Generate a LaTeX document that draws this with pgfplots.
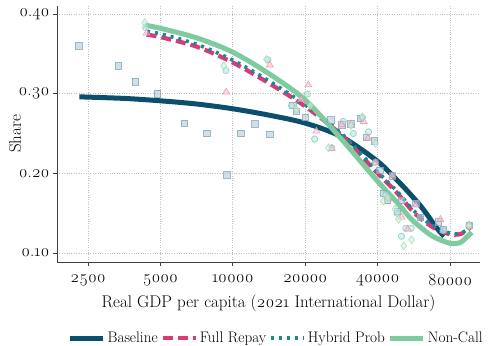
\documentclass[border=0pt]{standalone}
\usepackage{fontspec}
\setmainfont{Latin Modern Roman}[Numbers=OldStyle]
\usepackage{pgfplots}
\pgfplotsset{compat=1.18}
\definecolor{cnavy}{HTML}{0B4F6C}
\definecolor{cpink}{HTML}{DC3977}
\definecolor{cteal}{HTML}{178A94}
\definecolor{cgreen}{HTML}{7FCBA0}
\definecolor{sqfill}{HTML}{B4CAD6}
\definecolor{sqedge}{HTML}{86A8BC}
\definecolor{cifill}{HTML}{BCE6E0}
\definecolor{ciedge}{HTML}{78C6BC}
\definecolor{trfill}{HTML}{F6C4D6}
\definecolor{tredge}{HTML}{E68CAE}
\definecolor{dmfill}{HTML}{CDEED8}
\definecolor{dmedge}{HTML}{9AD9B4}
\begin{document}
\begin{tikzpicture}
\path[use as bounding box] (-57bp,-84bp) rectangle (431bp,262bp);
\begin{axis}[
  at={(0,0)}, anchor=south west,
  scale only axis, width=423bp, height=256bp,
  xmode=log, xmin=1857, xmax=106650, ymin=0.0887, ymax=0.410,
  xtick={2500,5000,10000,20000,40000,80000},
  xticklabels={2500,5000,10000,20000,40000,80000},
  ytick={0.1,0.2,0.3,0.4},
  yticklabels={0.10,0.20,0.30,0.40},
  axis x line=bottom, axis y line=left,
  axis line style={-, draw=black!75, line width=1bp},
  tick align=outside, major tick length=4bp,
  tick style={black!75, line width=0.8bp},
  minor tick num=0,
  grid=major, major grid style={dotted, black!25, line width=0.8bp},
  tick label style={font=\fontsize{17}{20}\selectfont},
  xticklabel style={yshift=-5bp},
  label style={font=\fontsize{17}{20}\selectfont},
  xlabel={Real GDP per capita (2021 International Dollar)},
  ylabel={Share},
  xlabel style={at={(axis description cs:0.5,-0.16)}, anchor=center},
  ylabel style={at={(axis description cs:-0.0993,0.5)}, anchor=center},
  legend columns=4,
  legend style={at={(axis description cs:0.518,-0.297)}, anchor=center, draw=none, fill=none,
    font=\fontsize{15.3}{18}\selectfont,
    /tikz/every even column/.append style={column sep=1bp}},
  legend image code/.code={\draw[#1] (0bp,0bp) -- (33bp,0bp);},
]
% curves
\addplot[cnavy, line width=5bp, smooth, tension=0.5] coordinates {
(2300,0.296) (3536,0.294) (5000,0.291) (7071,0.287) (10000,0.281) (14142,0.273)
(20000,0.263) (28284,0.246) (40000,0.215) (49600,0.1875) (55000,0.173) (60000,0.160)
(64000,0.149) (68200,0.137) (72000,0.128) (75600,0.121)};
\addlegendentry{Baseline}
\addplot[cpink, line width=4.2bp, dash pattern=on 10bp off 5bp, smooth, tension=0.5] coordinates {
(4380,0.374) (5000,0.371) (7071,0.359) (10000,0.339) (14142,0.313) (20000,0.284)
(28284,0.248) (40000,0.200) (48000,0.176) (55000,0.155) (60000,0.144) (65000,0.136)
(70000,0.130) (80000,0.1235) (89000,0.124) (97000,0.132)};
\addlegendentry{Full Repay}
\addplot[cteal, line width=3.6bp, dash pattern=on 3bp off 5bp, smooth, tension=0.5] coordinates {
(4400,0.378) (5000,0.375) (7071,0.362) (10000,0.342) (14142,0.316) (20000,0.286)
(28284,0.250) (40000,0.202) (48000,0.178) (55000,0.157) (60000,0.146) (65000,0.138)
(70000,0.132) (80000,0.125) (89000,0.125) (97000,0.132)};
\addlegendentry{Hybrid Prob}
\addplot[cgreen, line width=5bp, smooth, tension=0.5] coordinates {
(4312,0.386) (5000,0.382) (7071,0.370) (10000,0.352) (14142,0.325) (20000,0.292)
(28284,0.243) (40000,0.190) (48000,0.164) (55000,0.143) (60000,0.133) (68200,0.1205)
(80000,0.1122) (88000,0.113) (94000,0.120) (98500,0.126)};
\addlegendentry{Non-Call}
% scatter
\addplot[only marks, mark=square*, mark size=3.2bp, forget plot,
  mark options={fill=sqfill, draw=sqedge, fill opacity=0.6, draw opacity=0.8, line width=0.6bp}] coordinates {
(2284,0.360) (3343,0.335) (3935,0.315) (4853,0.300) (6286,0.263) (7790,0.250)
(9430,0.198) (10780,0.250) (12340,0.262) (14250,0.249) (17730,0.285) (18400,0.278)
(20000,0.270) (25570,0.267) (28400,0.261) (31000,0.262) (33800,0.269) (35800,0.245)
(38700,0.241) (40900,0.204) (46000,0.197) (42300,0.175) (50200,0.166) (48200,0.152)
(57700,0.162) (60200,0.145) (71600,0.139) (75000,0.130) (96000,0.135) (44000,0.166)};
\addplot[only marks, mark=*, mark size=3.2bp, forget plot,
  mark options={fill=cifill, draw=ciedge, fill opacity=0.6, draw opacity=0.8, line width=0.6bp}] coordinates {
(4340,0.383) (9365,0.329) (14000,0.3425) (17550,0.285) (20400,0.2995) (21900,0.243)
(28800,0.265) (31700,0.250) (34600,0.270) (36700,0.252) (39200,0.214) (43300,0.173)
(48200,0.150) (50300,0.121) (55100,0.131) (52400,0.131) (75000,0.128) (96000,0.135)
(25800,0.232)};
\addplot[only marks, mark=triangle*, mark size=4bp, forget plot,
  mark options={fill=trfill, draw=tredge, fill opacity=0.6, draw opacity=0.8, line width=0.6bp}] coordinates {
(4380,0.376) (9380,0.302) (14250,0.336) (20600,0.311) (19200,0.2925) (22250,0.253)
(25800,0.231) (28400,0.261) (35000,0.265) (36500,0.244) (39200,0.213) (44300,0.168)
(50300,0.145) (53400,0.130) (73000,0.142) (96000,0.135) (31000,0.262) (46000,0.197)
(57700,0.160)};
\addplot[only marks, mark=diamond*, mark size=4bp, forget plot,
  mark options={fill=dmfill, draw=dmedge, fill opacity=0.6, draw opacity=0.8, line width=0.6bp}] coordinates {
(4300,0.389) (9160,0.335) (13800,0.343) (18400,0.280) (25000,0.232) (34600,0.271)
(39200,0.2375) (42300,0.165) (47300,0.155) (48900,0.1425) (51400,0.109) (55400,0.1166)
(96000,0.134) (31000,0.260) (21000,0.285) (44000,0.170)};
\end{axis}
\end{tikzpicture}
\end{document}
